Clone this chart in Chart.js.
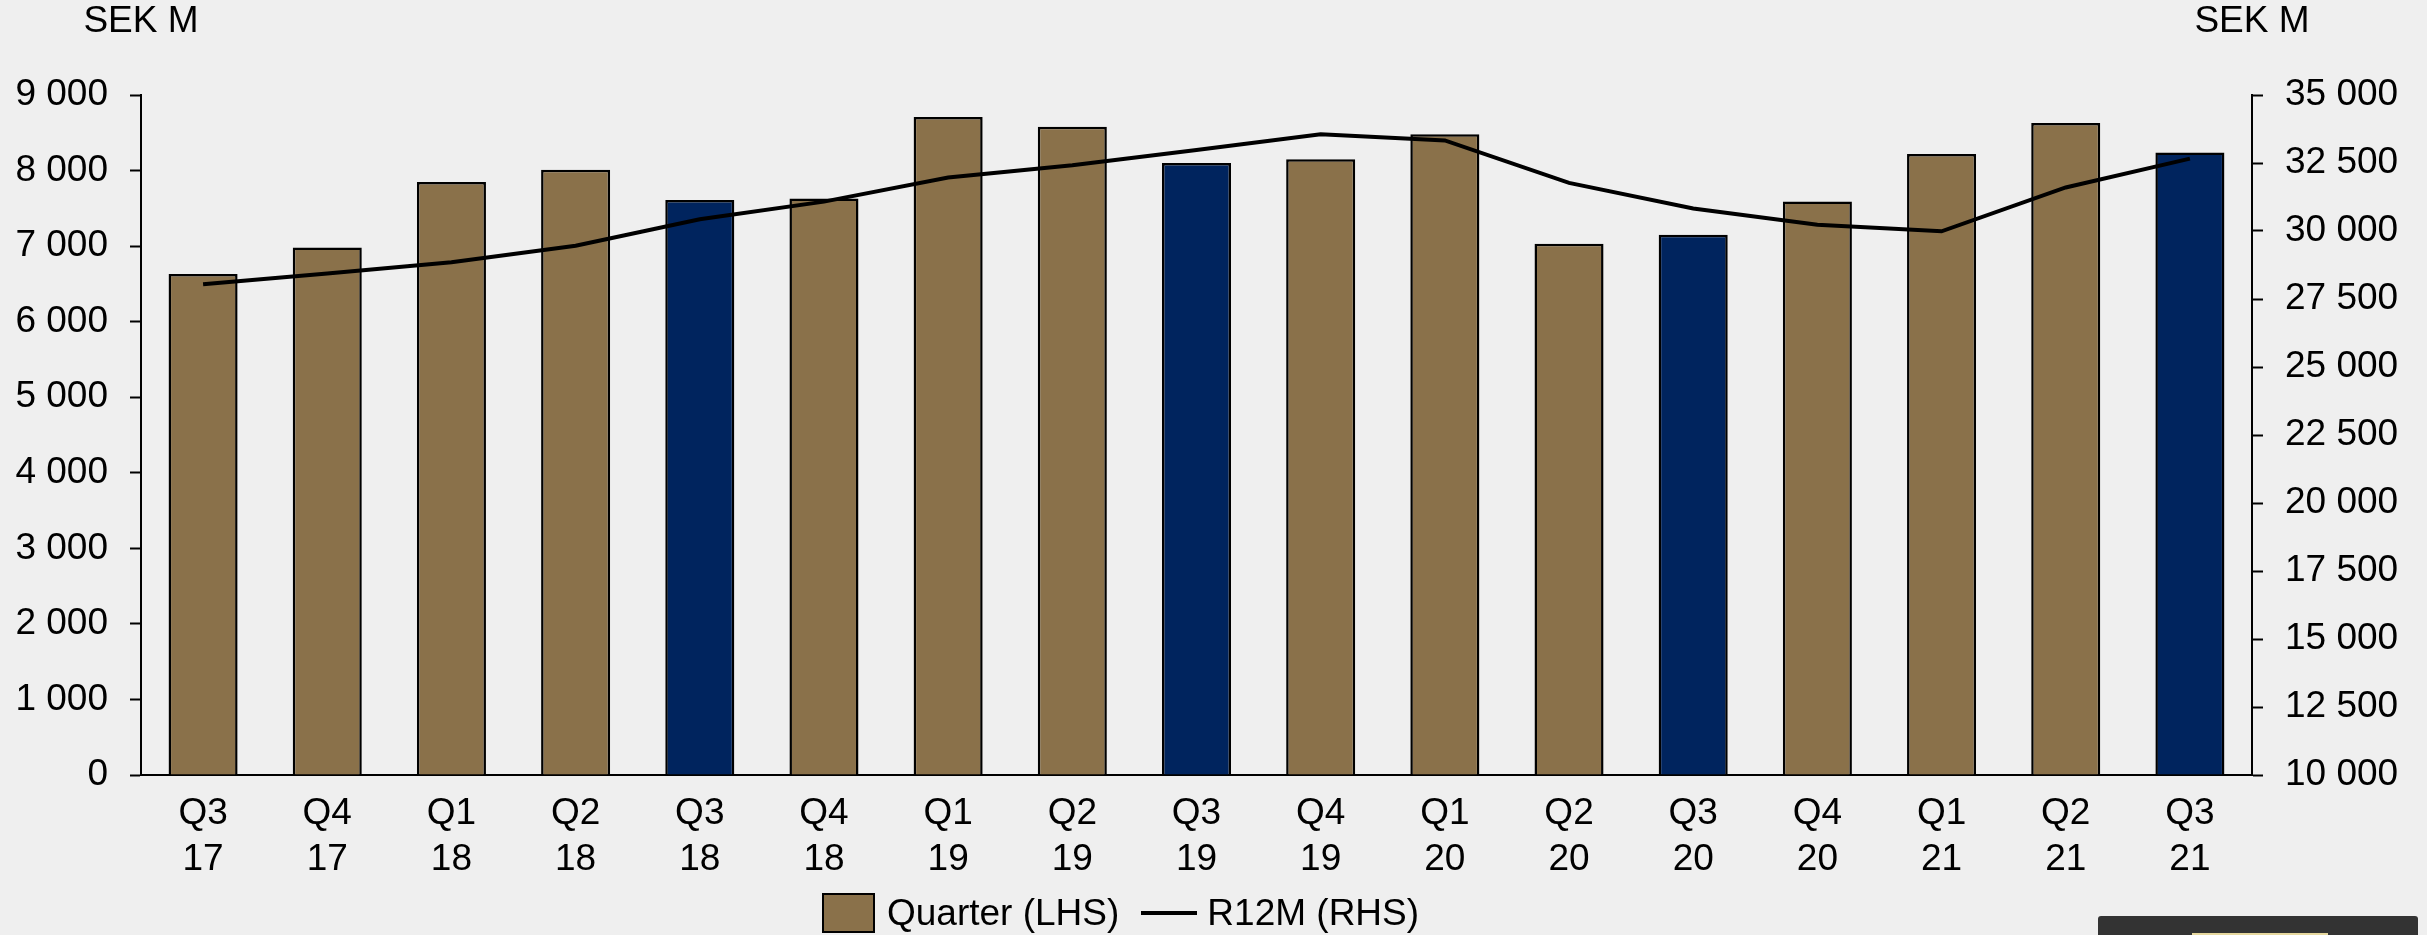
<!DOCTYPE html>
<html>
<head>
<meta charset="utf-8">
<title>Quarterly sales</title>
<script src="https://cdn.jsdelivr.net/npm/chart.js@4/dist/chart.umd.min.js"></script>
<style>
  html, body { margin:0; padding:0; background:#efefef; }
  #wrap { position:relative; width:2427px; height:935px; overflow:hidden; }
  #chart { position:absolute; left:0; top:0; }
  .legend {
    position:absolute; left:822px; top:893px; height:40px;
    display:flex; align-items:center;
    font-family:"Liberation Sans", Arial, sans-serif; font-size:37px; line-height:40px; color:#000;
  }
  .legend .box { width:53px; height:40px; box-sizing:border-box; border:2px solid #000; background:#8a714a; }
  .legend .line { width:56px; height:4px; background:#000; }
  .player { position:absolute; left:2098px; top:916px; width:320px; height:25px; background:#333; border-radius:3px 3px 0 0; }
  .player span { position:absolute; left:94px; top:17px; width:136px; height:10px; background:#e6d89e; }
</style>
</head>
<body>
<div id="wrap">
  <canvas id="chart" width="2427" height="935"></canvas>
  <div class="legend">
    <div class="box"></div>
    <span style="margin-left:12px">Quarter (LHS)</span>
    <div class="line" style="margin-left:22px"></div>
    <span style="margin-left:10px">R12M (RHS)</span>
  </div>
  <div class="player"><span></span></div>
</div>

<script>
const quarters = [
  ["Q3","17"],["Q4","17"],["Q1","18"],["Q2","18"],["Q3","18"],["Q4","18"],
  ["Q1","19"],["Q2","19"],["Q3","19"],["Q4","19"],["Q1","20"],["Q2","20"],
  ["Q3","20"],["Q4","20"],["Q1","21"],["Q2","21"],["Q3","21"]
]

// SEK M, quarter (left axis)
const quarterly = [6630, 6980, 7850, 8010, 7610, 7630, 8710, 8580, 8100, 8150, 8480, 7030, 7150, 7590, 8220, 8630, 8240]

// SEK M, rolling 12 months (right axis)
const r12m = [28040, 28440, 28850, 29460, 30430, 31080, 31970, 32420, 32980, 33560, 33330, 31770, 30830, 30230, 29990, 31600, 32660]

// quarters shown in navy
const highlighted = ["Q3 18", "Q3 19", "Q3 20", "Q3 21"]

const leftTicks = { min:0, max:9000, step:1000 }
const rightTicks = { min:10000, max:35000, step:2500 }

const BROWN = "#8a714a"
const NAVY = "#00245e"

const barColors = quarters.map(q => highlighted.includes(q.join(" ")) ? NAVY : BROWN)

const fmt = v => String(v).replace(/\B(?=(\d{3})+(?!\d))/g, " ")

Chart.defaults.font.family = '"Liberation Sans", Arial, sans-serif'
Chart.defaults.font.size = 37
Chart.defaults.color = "#000"

const unitLabels = {
  id:"unitLabels",
  afterDraw(chart){
    const ctx = chart.ctx
    ctx.save()
    ctx.font = '37px "Liberation Sans", Arial, sans-serif'
    ctx.fillStyle = "#000"
    ctx.textAlign = "center"
    ctx.textBaseline = "middle"
    ctx.fillText("SEK M", chart.scales.y.right, 22)
    ctx.fillText("SEK M", chart.scales.y2.left, 22)
    ctx.restore()
  }
}

const axisGrid = {
  drawOnChartArea:false,
  drawTicks:true,
  tickLength:11,
  tickColor:"#000",
  tickWidth:2
}

new Chart(document.getElementById("chart"), {
  type:"bar",
  data:{
    labels:quarters,
    datasets:[
      {
        type:"line",
        label:"R12M (RHS)",
        data:r12m,
        yAxisID:"y2",
        borderColor:"#000",
        borderWidth:4,
        pointRadius:0,
        tension:0,
        fill:false,
        order:0
      },
      {
        label:"Quarter (LHS)",
        data:quarterly,
        yAxisID:"y",
        backgroundColor:barColors,
        borderColor:"#000",
        borderWidth:2.5,
        barPercentage:0.556,
        categoryPercentage:1,
        order:1
      }
    ]
  },
  plugins:[unitLabels],
  options:{
    responsive:false,
    devicePixelRatio:1,
    animation:false,
    layout:{ padding:{ top:95, left:0, right:0, bottom:0 } },
    plugins:{
      legend:{ display:false },
      tooltip:{ enabled:false }
    },
    scales:{
      x:{
        grid:{ display:true, drawOnChartArea:false, drawTicks:false },
        border:{ color:"#000", width:2 },
        ticks:{ padding:16, font:{ size:37, lineHeight:46/37 }, maxRotation:0, autoSkip:false },
        afterFit(s){ s.height = 160 }
      },
      y:{
        position:"left",
        min:leftTicks.min,
        max:leftTicks.max,
        grid:axisGrid,
        border:{ color:"#000", width:2 },
        ticks:{ stepSize:leftTicks.step, padding:22, callback:fmt },
        afterFit(s){ s.width = 141 }
      },
      y2:{
        position:"right",
        min:rightTicks.min,
        max:rightTicks.max,
        grid:axisGrid,
        border:{ color:"#000", width:2 },
        ticks:{ stepSize:rightTicks.step, padding:22, callback:fmt },
        afterFit(s){ s.width = 175 }
      }
    }
  }
})
</script>
</body>
</html>
